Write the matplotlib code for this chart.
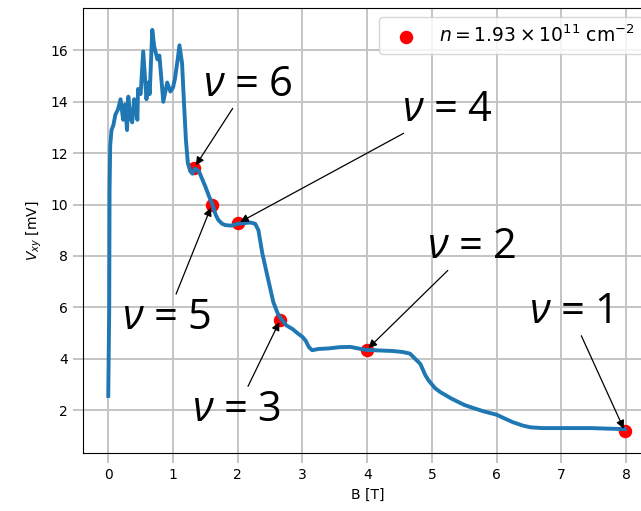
import numpy as np
import matplotlib
matplotlib.use('Agg')
import matplotlib.pyplot as plt

# the nu labels use their own math font; axis labels keep DejaVu
plt.rcParams['mathtext.rm'] = 'Open Sans'
plt.rcParams['mathtext.it'] = 'Open Sans:italic'

# Hall voltage trace, B in tesla, V_xy in mV
B = [0.0, 0.015, 0.02, 0.03, 0.05, 0.08, 0.11, 0.15, 0.19, 0.23, 0.26, 0.29, 0.31, 0.34,
     0.37, 0.40, 0.43, 0.45, 0.46, 0.50, 0.54, 0.59, 0.62, 0.64, 0.68, 0.71, 0.76,
     0.79, 0.83, 0.85, 0.91, 0.96, 1.00, 1.03, 1.07, 1.10, 1.14, 1.17, 1.20, 1.23,
     1.27, 1.30, 1.34, 1.40, 1.45, 1.50, 1.56, 1.61, 1.66, 1.70, 1.76, 1.81, 1.90,
     2.00, 2.10, 2.20, 2.27, 2.32, 2.38, 2.46, 2.55, 2.62, 2.67, 2.75, 2.85, 2.92,
     3.00, 3.05, 3.10, 3.15, 3.25, 3.40, 3.58, 3.74, 3.90, 4.00, 4.20, 4.40, 4.55,
     4.66, 4.74, 4.82, 4.90, 4.95, 5.05, 5.13, 5.30, 5.50, 5.64, 5.80, 6.00, 6.10,
     6.25, 6.40, 6.52, 6.70, 6.93, 7.20, 7.45, 7.70, 7.98]
Vxy = [2.55, 6.0, 10.5, 12.3, 12.9, 13.1, 13.5, 13.7, 14.1, 13.3, 13.9, 12.9, 14.2, 13.4,
       13.2, 14.1, 13.6, 13.3, 14.5, 14.3, 15.96, 14.1, 14.75, 14.3, 16.8, 16.15, 15.65,
       15.8, 14.6, 14.0, 14.75, 14.4, 14.55, 14.9, 15.6, 16.2, 15.5, 13.95, 12.5, 11.6,
       11.3, 11.2, 11.4, 11.3, 11.0, 10.7, 10.3, 10.0, 9.6, 9.4, 9.25, 9.2, 9.18,
       9.25, 9.28, 9.3, 9.25, 9.0, 8.1, 7.2, 6.2, 5.75, 5.55, 5.3, 5.15, 5.0,
       4.85, 4.7, 4.45, 4.33, 4.38, 4.4, 4.45, 4.46, 4.38, 4.34, 4.32, 4.3, 4.26,
       4.2, 4.0, 3.8, 3.35, 3.15, 2.85, 2.7, 2.45, 2.2, 2.08, 1.95, 1.82, 1.7,
       1.53, 1.4, 1.33, 1.3, 1.3, 1.3, 1.3, 1.28, 1.26]

# filling factors and where they sit on the trace
nu = [6, 5, 4, 3, 2, 1]
B_nu = [1.33, 1.60, 2.00, 2.66, 3.99, 7.98]
V_nu = [11.44, 9.98, 9.27, 5.52, 4.34, 1.18]
# label centres for each filling factor
text_B = [2.16, 0.90, 5.24, 1.98, 5.62, 7.14]
text_V = [14.67, 5.59, 13.70, 2.0, 8.36, 5.82]

fig = plt.figure(figsize=(6.41, 5.11), dpi=100)
ax = fig.add_axes([0.1295, 0.1135, 0.8877, 0.8708])

ax.plot(B, Vxy, color='C0', lw=2.8, zorder=2)
ax.scatter(B_nu, V_nu, color='red', s=75, zorder=1,
           label=r'$n = 1.93 \times 10^{11}$ cm$^{-2}$')

for k in range(len(nu)):
    ax.annotate(r'$\nu$ = %d' % nu[k], xy=(B_nu[k], V_nu[k]),
                xytext=(text_B[k], text_V[k]), ha='center', va='center',
                fontsize=30, family='Open Sans', math_fontfamily='custom',
                arrowprops=dict(arrowstyle='-|>', color='black', lw=0.9,
                                mutation_scale=12, shrinkA=0))

ax.set_xlim(-0.39, 8.4)
ax.set_ylim(0.33, 17.65)
ax.set_xticks(range(0, 9))
ax.set_yticks(range(2, 17, 2))
ax.grid(True, color='#c4c4c4', lw=1.4)
ax.set_axisbelow(True)
ax.tick_params(length=7, width=1.4, color='#c4c4c4', pad=4)
ax.set_xlabel('B [T]')
ax.set_ylabel(r'$V_{xy}$ [mV]')
ax.legend(loc='upper right', fontsize=13.5)

fig.savefig('out.png', dpi=100)
